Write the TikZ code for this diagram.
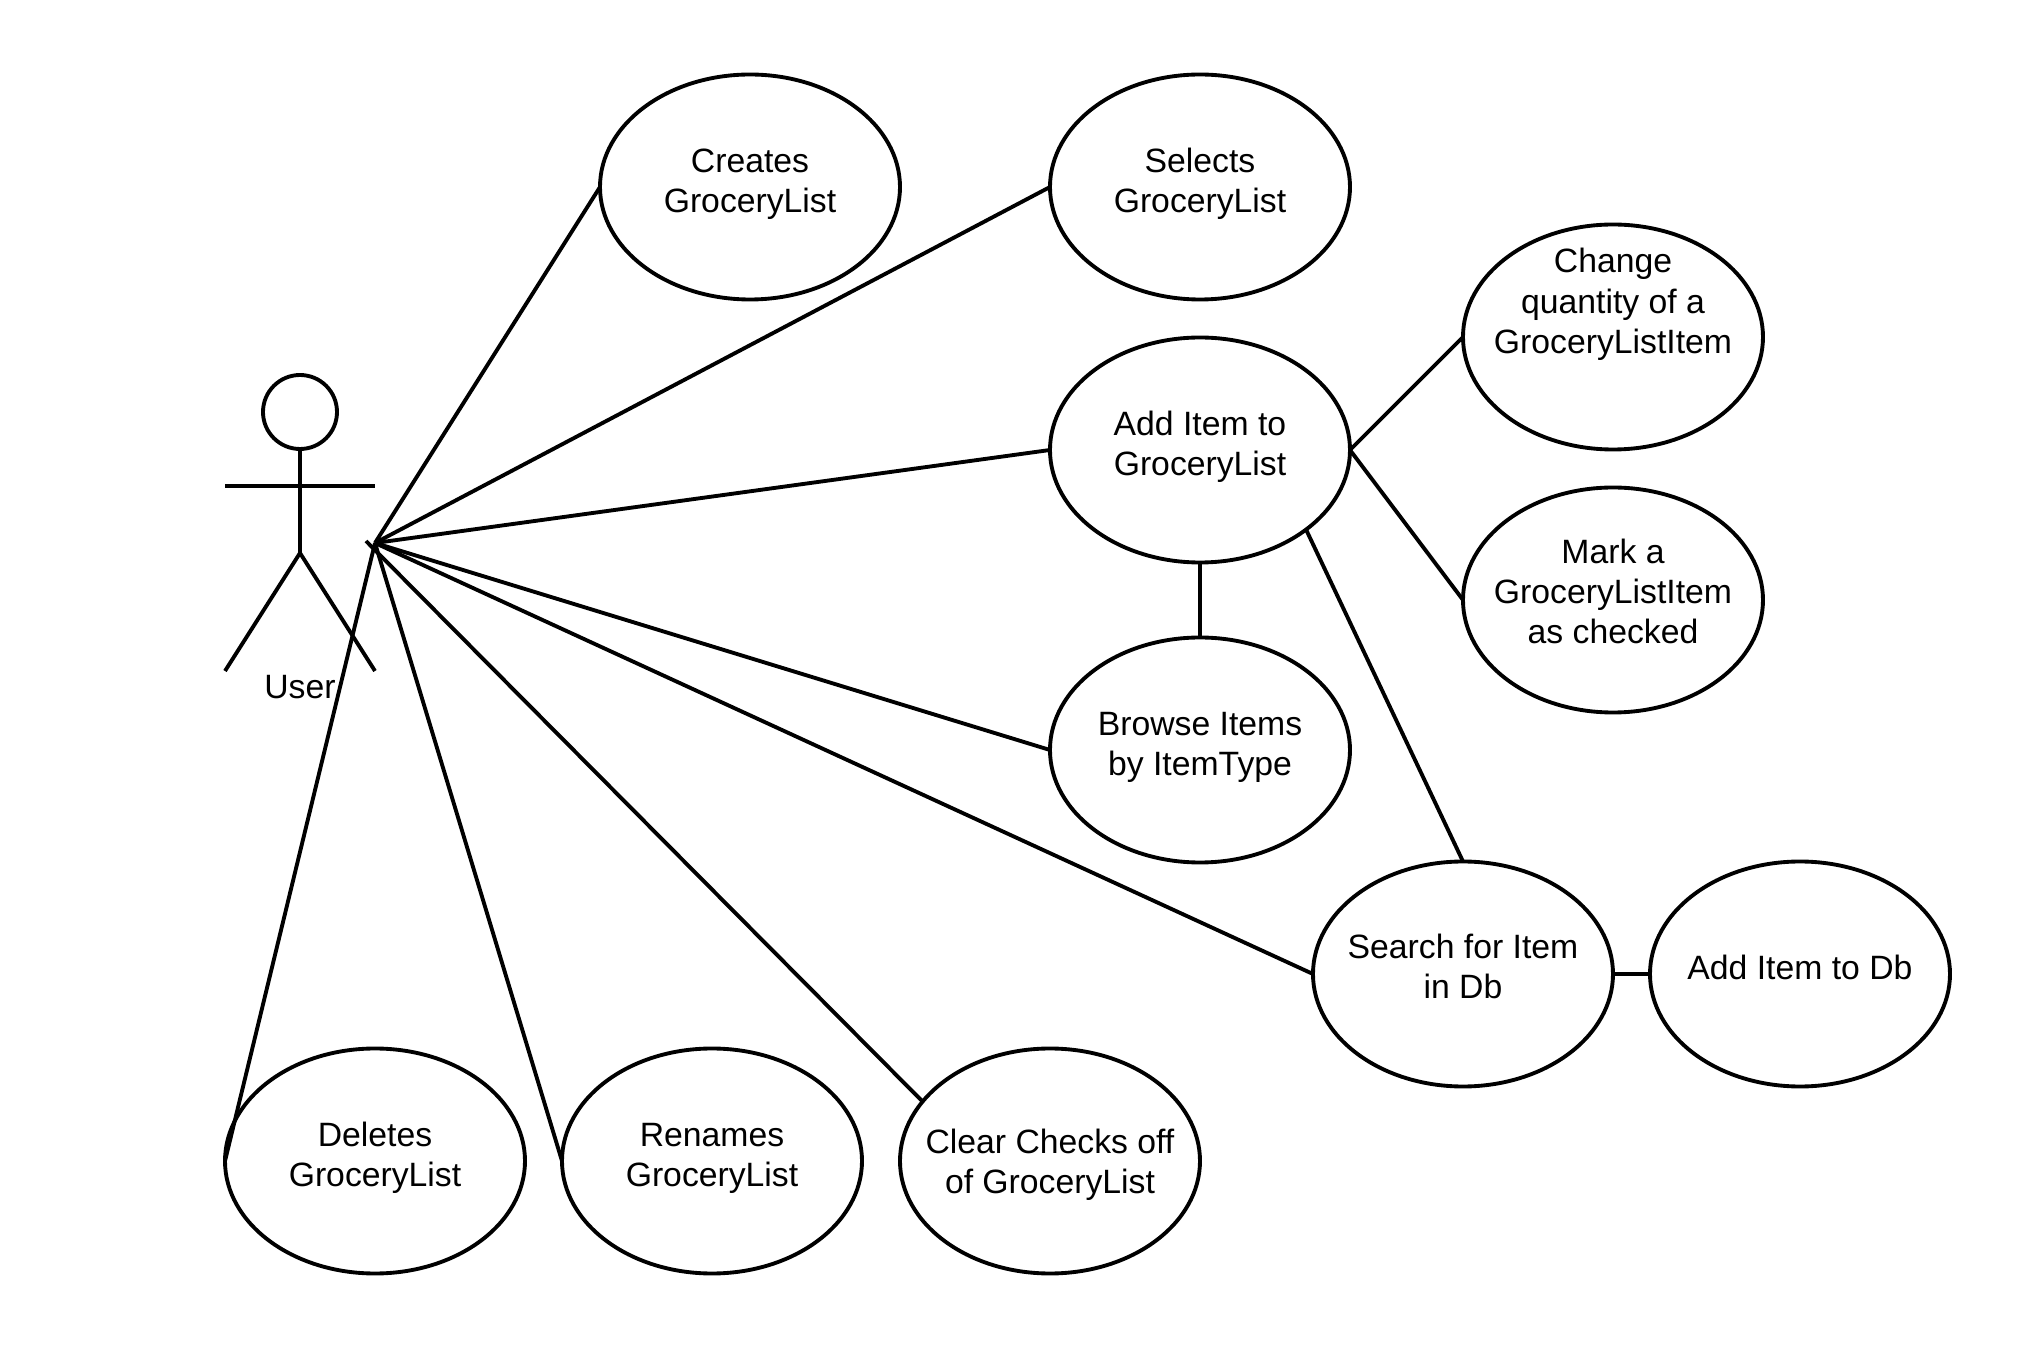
\documentclass[tikz,border=0pt]{standalone}
\usepackage{fontspec}
\setmainfont{Liberation Sans}
\usetikzlibrary{shapes,positioning}

\tikzset{
    usecase/.style={ellipse, draw, line width=1.1pt, minimum width=3cm, minimum height=2.25cm, inner sep=-6mm, outer sep=0pt, align=center, text depth=3.7pt, font=\fontsize{9.6pt}{11.4pt}\selectfont},
    actor/.style={line width=1.1pt},
    assoc/.style={line width=1.1pt}
}

\begin{document}
\begin{tikzpicture}
    \useasboundingbox (0,0) rectangle (20.25,13.5);

    % actor
    \node[circle, draw, actor, minimum size=0.74cm, inner sep=0pt, outer sep=0pt] (head) at (3.00,9.38) {};
    \coordinate (hip) at (3.00,7.97);
    \draw[actor] (head.south) -- (hip);
    \draw[actor] (2.25,8.64) -- (3.75,8.64);
    \draw[actor] (2.25,6.79) -- (hip) -- (3.75,6.79);
    \node[font=\fontsize{9.6pt}{11.4pt}\selectfont] (user) at (3.00,6.63) {User};

    \coordinate (hub) at (3.75,8.07);
    \coordinate (stub) at (3.66,8.09);

    % use cases
    \node[usecase] (creates) at (7.50,11.63) {Creates\\GroceryList};
    \node[usecase] (selects) at (12.00,11.63) {Selects\\GroceryList};
    \node[usecase, text depth=20.6pt] (change) at (16.13,10.13) {Change\\quantity of a\\GroceryListItem};
    \node[usecase] (additem) at (12.00,9.00) {Add Item to\\GroceryList};
    \node[usecase, text depth=5pt] (mark) at (16.13,7.50) {Mark a\\GroceryListItem\\as checked};
    \node[usecase] (browse) at (12.00,6.00) {Browse Items\\by ItemType};
    \node[usecase, text depth=4.5pt] (search) at (14.63,3.76) {Search for Item\\in Db};
    \node[usecase] (adddb) at (18.00,3.76) {Add Item to Db};
    \node[usecase] (deletes) at (3.75,1.89) {Deletes\\GroceryList};
    \node[usecase] (renames) at (7.12,1.89) {Renames\\GroceryList};
    \node[usecase, text depth=0pt] (clear) at (10.50,1.89) {Clear Checks off\\of GroceryList};

    % associations
    \draw[assoc] (hub) -- (creates.west);
    \draw[assoc] (hub) -- (selects.west);
    \draw[assoc] (hub) -- (additem.west);
    \draw[assoc] (hub) -- (browse.west);
    \draw[assoc] (hub) -- (search.west);
    \draw[assoc] (hub) -- (deletes.west);
    \draw[assoc] (hub) -- (renames.west);
    \draw[assoc] (stub) -- (clear.155);

    \draw[assoc] (additem.east) -- (change.west);
    \draw[assoc] (additem.east) -- (mark.west);
    \draw[assoc] (additem.south) -- (browse.north);
    \draw[assoc] (additem.south east) -- (search.north);
    \draw[assoc] (search.east) -- (adddb.west);
\end{tikzpicture}
\end{document}
